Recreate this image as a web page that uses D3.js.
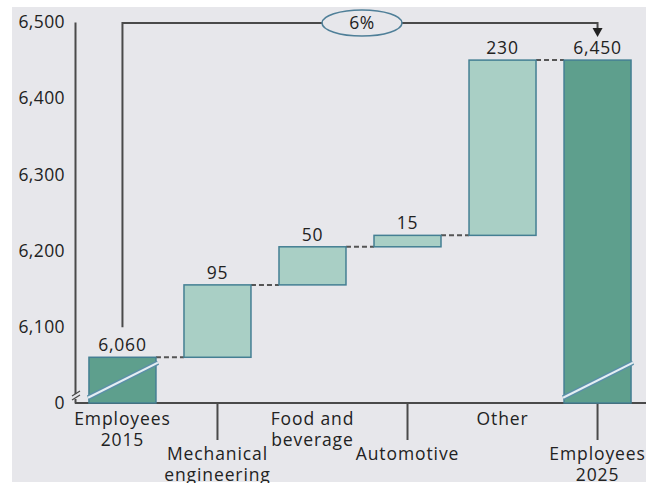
<!DOCTYPE html>
<html>
<head>
<meta charset="utf-8">
<script src="https://cdn.jsdelivr.net/npm/d3@7"></script>
<style>
  html, body { margin: 0; padding: 0; background: #ffffff; }
  svg { display: block; }
  text { font-family: "Open Sans", "Noto Sans", sans-serif; fill: #222; }
</style>
</head>
<body>
<svg id="chart" width="646" height="483"></svg>
<script>
// ---- data ----
const categories = ["Employees 2015", "Mechanical engineering", "Food and beverage", "Automotive", "Other", "Employees 2025"];
const values = [6060, 95, 50, 15, 230, 6450];
const kinds = ["total", "delta", "delta", "delta", "delta", "total"];
const valueLabels = ["6,060", "95", "50", "15", "230", "6,450"];
const categoryLines = [["Employees", "2015"], ["Mechanical", "engineering"], ["Food and", "beverage"], ["Automotive"], ["Other"], ["Employees", "2025"]];
const labelRows = [0, 1, 0, 1, 0, 1];
const yTickValues = [6000, 6100, 6200, 6300, 6400, 6500];
const yTickLabels = ["0", "6,100", "6,200", "6,300", "6,400", "6,500"];
const changeLabel = "6%";

// ---- setup ----
const svg = d3.select("#chart");
const bg = "#e7e7eb";
const darkFill = "#5e9f8d", lightFill = "#a9cfc5", edge = "#447f93", ink = "#4a4a4a";

svg.append("rect").attr("x", 12).attr("y", 7).attr("width", 634).attr("height", 475).attr("fill", bg);

const x = d3.scaleBand().domain(categories).range([75, 645]).paddingInner(0.295).paddingOuter(0.147);
const y = d3.scaleLinear().domain([6000, 6500]).range([403, 22]);

// compute waterfall
let running = 0;
const bars = categories.map((c, i) => {
  let y0, y1;
  if (kinds[i] === "total") { y0 = 6000; y1 = values[i]; running = values[i]; }
  else { y0 = running; y1 = running + values[i]; running = y1; }
  return { c, i, y0, y1, level: running };
});

// y axis
const yAxis = d3.axisLeft(y).tickValues(yTickValues).tickFormat((d, i) => yTickLabels[i]).tickSize(0).tickPadding(10);
const gy = svg.append("g").attr("transform", "translate(75,0)").call(yAxis);
gy.select(".domain").attr("stroke", ink).attr("stroke-width", 2);
gy.selectAll("text").style("font-size", "17.5px").style("letter-spacing", "0.4px").attr("fill", "#222");

// x axis
const xAxis = d3.axisBottom(x).tickSize(0).tickFormat("");
const gx = svg.append("g").attr("transform", `translate(0,${y(6000)})`).call(xAxis);
gx.select(".domain").attr("d", `M75,0H646`).attr("stroke", ink).attr("stroke-width", 2);
gx.selectAll(".tick").each(function (d, i) {
  const t = d3.select(this);
  if (labelRows[i] === 1) {
    t.append("line").attr("y1", 0).attr("y2", 37).attr("stroke", ink).attr("stroke-width", 2);
  }
  const txt = t.append("text").attr("text-anchor", "middle")
    .style("font-size", "17.5px").style("letter-spacing", "0.9px").attr("fill", "#222");
  const base = labelRows[i] === 1 ? 57 : 22;
  categoryLines[i].forEach((ln, k) => {
    txt.append("tspan").attr("x", 0).attr("y", base + k * 20.5).text(ln);
  });
});
gx.selectAll(".tick").attr("transform", d => `translate(${x(d) + x.bandwidth() / 2},0)`);

// axis break mark
const bk = svg.append("g").attr("transform", `translate(75,${y(6000) - 6})`);
bk.append("rect").attr("x", -3).attr("y", -3).attr("width", 6).attr("height", 5).attr("fill", bg);
bk.append("path").attr("d", "M-3,-1 L5,-6 M-3,3 L5,-2").attr("stroke", ink).attr("stroke-width", 1.3).attr("fill", "none");

// connectors
bars.slice(0, -1).forEach((b, i) => {
  svg.append("line")
    .attr("x1", x(b.c) + x.bandwidth()).attr("x2", x(categories[i + 1]))
    .attr("y1", y(b.level)).attr("y2", y(b.level))
    .attr("stroke", "#555").attr("stroke-width", 2).attr("stroke-dasharray", "5,3");
});

// bars
svg.selectAll("rect.bar").data(bars).join("rect").attr("class", "bar")
  .attr("x", d => x(d.c)).attr("width", x.bandwidth())
  .attr("y", d => y(Math.max(d.y0, d.y1))).attr("height", d => Math.abs(y(d.y0) - y(d.y1)))
  .attr("fill", d => kinds[d.i] === "total" ? darkFill : lightFill)
  .attr("stroke", edge).attr("stroke-width", 1.5);

// break slashes on total bars
bars.filter(d => kinds[d.i] === "total").forEach(d => {
  const xa = x(d.c) - 1, xb = x(d.c) + x.bandwidth() + 2;
  const p = `M${xa},${y(6007)} L${xb},${y(6053)}`;
  svg.append("path").attr("d", p).attr("stroke", "#5b8fa8").attr("stroke-width", 5).attr("fill", "none");
  svg.append("path").attr("d", p).attr("stroke", "#e4eef3").attr("stroke-width", 2.2).attr("fill", "none");
});

// value labels
svg.selectAll("text.val").data(bars).join("text").attr("class", "val")
  .attr("x", d => x(d.c) + x.bandwidth() / 2)
  .attr("y", d => y(Math.max(d.y0, d.y1)) - 6)
  .attr("text-anchor", "middle").style("font-size", "17.5px").style("letter-spacing", "0.8px")
  .text(d => valueLabels[d.i]);

// growth bracket
const xs = x(categories[0]) + x.bandwidth() / 2;
const xe = x(categories[5]) + x.bandwidth() / 2;
const topY = y(6500) + 1;
svg.append("path")
  .attr("d", `M${xs},${y(6060) - 30} V${topY} H${xe} V${topY + 7}`)
  .attr("stroke", ink).attr("stroke-width", 2).attr("fill", "none");
svg.append("path")
  .attr("d", `M${xe - 5},${topY + 5} L${xe + 5},${topY + 5} L${xe},${topY + 14} Z`)
  .attr("fill", "#222");
const ex = 362;
svg.append("ellipse").attr("cx", ex).attr("cy", topY).attr("rx", 40).attr("ry", 13)
  .attr("fill", bg).attr("stroke", "#4f7f98").attr("stroke-width", 1.6);
svg.append("text").attr("x", ex).attr("y", topY).attr("dy", "0.35em").attr("text-anchor", "middle")
  .style("font-size", "17.5px").style("letter-spacing", "0.5px").text(changeLabel);
</script>
</body>
</html>
